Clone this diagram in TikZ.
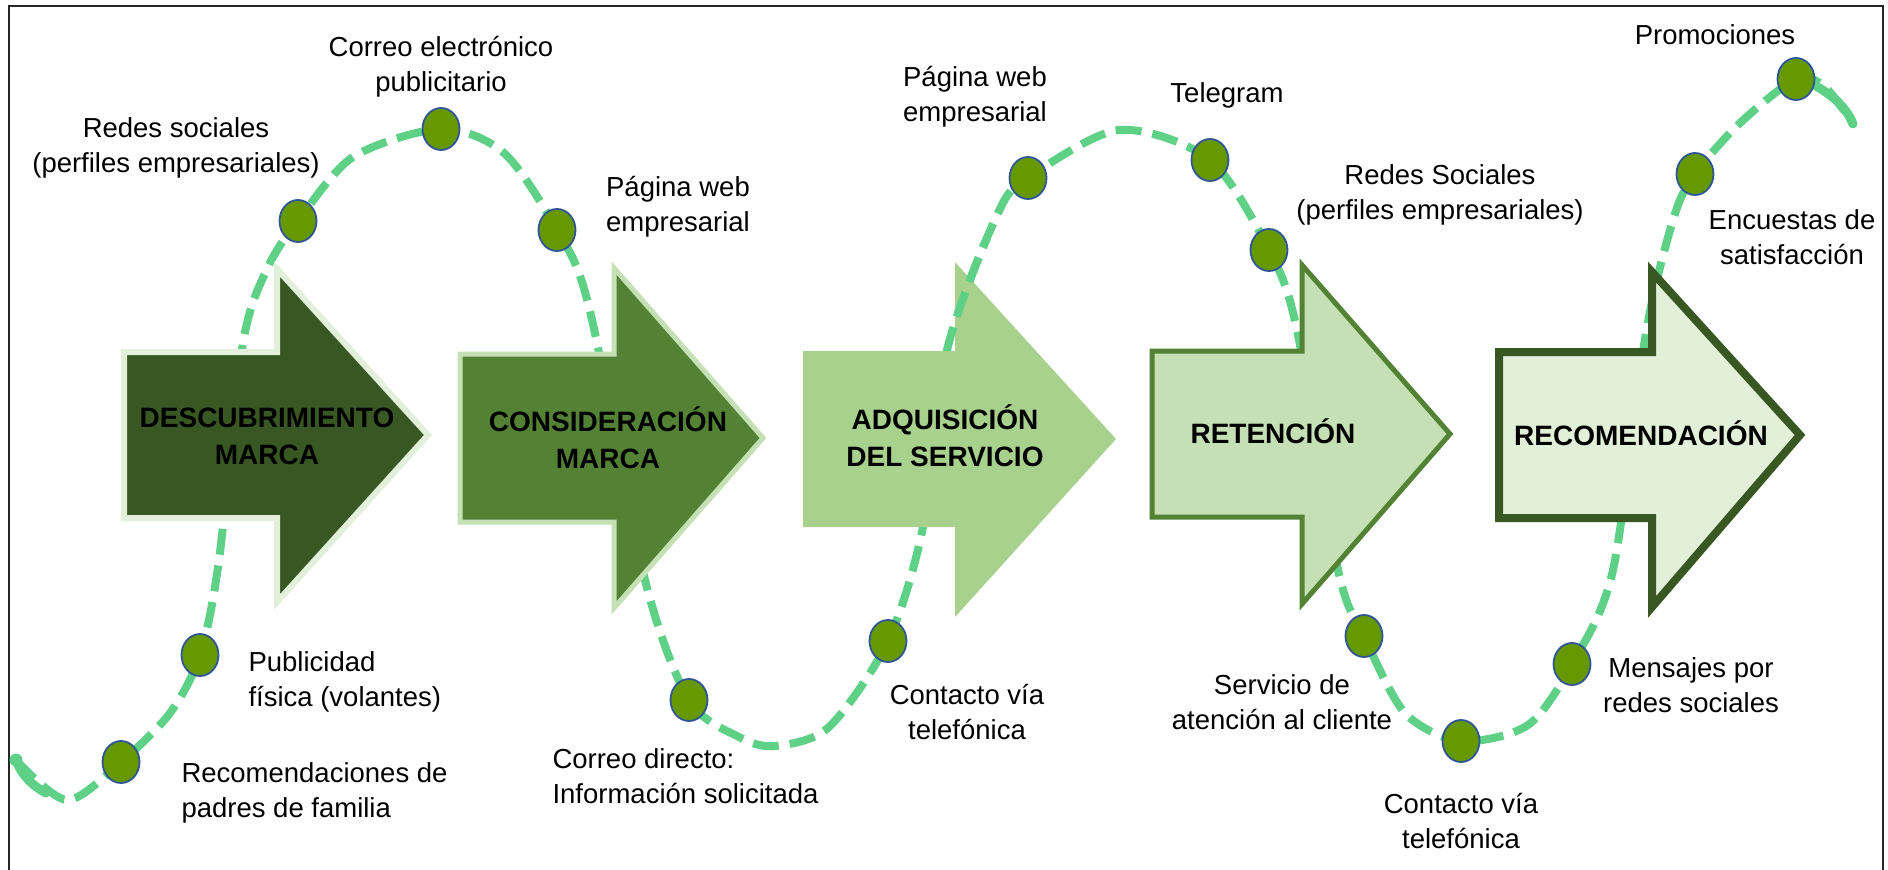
\documentclass[tikz,border=0pt]{standalone}
\usepackage{fontspec}
\setmainfont{Liberation Sans}
\usetikzlibrary{shapes.geometric}
\definecolor{wave}{RGB}{94,209,134}
\definecolor{dotfill}{RGB}{102,153,0}
\definecolor{dotline}{RGB}{47,85,151}
\definecolor{gA}{RGB}{56,87,35}
\definecolor{gB}{RGB}{84,130,53}
\definecolor{gC}{RGB}{169,209,142}
\definecolor{gD}{RGB}{197,224,180}
\definecolor{gE}{RGB}{226,240,217}
\definecolor{gF}{RGB}{226,239,218}
\begin{document}
\begin{tikzpicture}[x=1pt,y=-1pt,
  wavestyle/.style={draw=wave,line width=8,dash pattern=on 26 off 11},
  waveend/.style={draw=wave,line width=9,line cap=round},
  dotstyle/.style={ellipse,draw=dotline,line width=1.8,fill=dotfill,minimum width=37,minimum height=42,inner sep=0},
  stagetext/.style={align=center,font=\fontsize{28}{37}\selectfont\bfseries,text=black},
  lbl/.style={align=center,font=\fontsize{27.5}{35}\selectfont,text=black},
  lbll/.style={align=left,font=\fontsize{27.5}{35}\selectfont,text=black,anchor=west}]
\useasboundingbox (0,0) rectangle (1888,870);
\fill[white] (0,0) rectangle (1888,870);
\draw[line width=2.5,black!85] (9,870) -- (9,6) -- (1883,6) -- (1883,870);
% dot positions
\coordinate (p1) at (121,762);
\coordinate (p2) at (200,655);
\coordinate (p3) at (298,221);
\coordinate (p4) at (441,129);
\coordinate (p5) at (557,230);
\coordinate (p6) at (689,700);
\coordinate (p7) at (888,641);
\coordinate (p8) at (1028,178);
\coordinate (p9) at (1210,160);
\coordinate (p10) at (1269,250);
\coordinate (p11) at (1364,636);
\coordinate (p12) at (1461,741);
\coordinate (p13) at (1572,664);
\coordinate (p14) at (1695,174);
\coordinate (p15) at (1796,79);
\coordinate (ws) at (16,760);
\coordinate (we) at (1853,124);
% wave
\def\wavepath{plot[smooth,tension=0.5] coordinates {
 (ws) (67,800) (p1) (170,713) (p2) (219,560) (243,343) (268,267) (p3) (353,157) (p4)
 (504,153) (p5) (589,307) (645,580) (p6) (739,737) (775,746) (829,727) (p7)
 (923,527) (947,350) (998,213) (p8) (1119,130) (p9) (p10) (1297,330) (1338,570) (p11)
 (1405,713) (p12) (1528,725) (p13) (1613,570) (1646,333) (1674,217) (p14) (1740,123)
 (p15) (1825,87) (we)}}
\draw[wavestyle] \wavepath;
\draw[waveend] (ws) .. controls (21,774) and (31,785) .. (46,793);
\draw[waveend] (1816,86) .. controls (1830,94) and (1846,106) .. (we);
\fill[wave] (ws) circle[radius=6.5];
% stage arrows
\draw[fill=gA,draw=gF,line width=6] (124,352) -- (277,352) -- (277,269) -- (428,435) -- (277,602) -- (277,518) -- (124,518) -- cycle;
\draw[fill=gB,draw=gD,line width=5] (460,354) -- (614,354) -- (614,268) -- (763,438) -- (614,608) -- (614,522) -- (460,522) -- cycle;
\fill[gC] (803,351) -- (955,351) -- (955,262) -- (1116,439) -- (955,617) -- (955,527) -- (803,527) -- cycle;
\begin{scope}
  \clip (955,240) rectangle (1010,351);
  \draw[wavestyle] \wavepath;
\end{scope}
\draw[fill=gD,draw=gB,line width=5] (1152,351) -- (1302,351) -- (1302,265) -- (1450,434) -- (1302,604) -- (1302,517) -- (1152,517) -- cycle;
\draw[fill=gE,draw=gA,line width=8] (1499,352) -- (1652,352) -- (1652,272) -- (1800,435) -- (1652,607) -- (1652,518) -- (1499,518) -- cycle;
\node[stagetext] (t1) at (267,436) {DESCUBRIMIENTO\\MARCA};
\node[stagetext] (t2) at (608,438) {CONSIDERACIÓN\\MARCA};
\node[stagetext] (t3) at (945,436) {ADQUISICIÓN\\DEL SERVICIO};
\node[stagetext] (t4) at (1273,431) {RETENCIÓN};
\node[stagetext] (t5) at (1641,433) {RECOMENDACIÓN};
% dots
\foreach \i in {1,...,15} {\node[dotstyle] (d\i) at (p\i) {};}
% labels
\node[lbl] (l4) at (441,67) {Correo electrónico\\publicitario};
\node[lbl] (l3) at (176,148) {Redes sociales\\(perfiles empresariales)};
\node[lbl] (l5) at (678,207) {Página web\\empresarial};
\node[lbll] (l2) at (245,682) {Publicidad\\física (volantes)};
\node[lbll] (l1) at (178,793) {Recomendaciones de\\padres de familia};
\node[lbll] (l6) at (549,776) {Correo directo:\\Información solicitada};
\node[lbl] (l7) at (967,712) {Contacto vía\\telefónica};
\node[lbl] (l8) at (975,97) {Página web\\empresarial};
\node[lbl] (l9) at (1227,95) {Telegram};
\node[lbl] (l10) at (1440,195) {Redes Sociales\\(perfiles empresariales)};
\node[lbl] (l11) at (1282,702) {Servicio de\\atención al cliente};
\node[lbl] (l12) at (1461,821) {Contacto vía\\telefónica};
\node[lbl] (l13) at (1691,685) {Mensajes por\\redes sociales};
\node[lbl] (l14) at (1715,35) {Promociones};
\node[lbl] (l15) at (1792,237) {Encuestas de\\satisfacción};
\end{tikzpicture}
\end{document}
